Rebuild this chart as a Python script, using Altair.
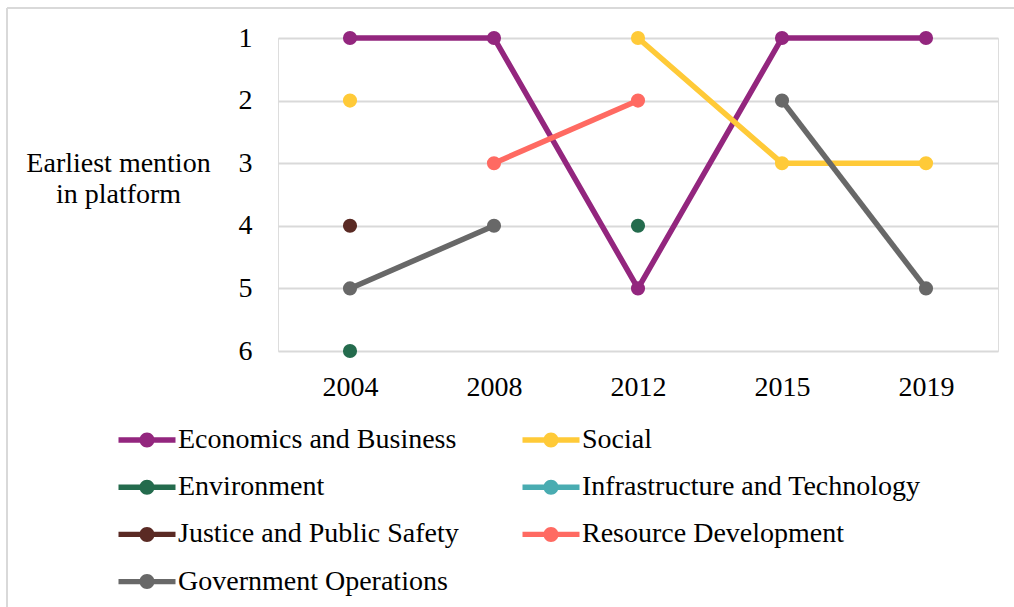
import altair as alt
import pandas as pd

years = ["2004", "2008", "2012", "2015", "2019"]
series = [
    "Economics and Business",
    "Social",
    "Environment",
    "Infrastructure and Technology",
    "Justice and Public Safety",
    "Resource Development",
    "Government Operations",
]
economics = [1, 1, 5, 1, 1]
social = [2, None, 1, 3, 3]
environment = [6, None, 4, None, None]
infrastructure = [None, None, None, None, None]
justice = [4, None, None, None, None]
resource = [None, 3, 2, None, None]
government = [5, 4, None, 2, 5]
colors = ["#93267E", "#FFCA38", "#246B4D", "#49ACB1", "#5A2A24", "#FF6A62", "#686868"]
y_ticks = [1, 2, 3, 4, 5, 6]

values = [economics, social, environment, infrastructure, justice, resource, government]

rows = []
for s_idx, (name, vals) in enumerate(zip(series, values)):
    seg = 0
    for yr, v in zip(years, vals):
        if v is None:
            seg += 1
            continue
        rows.append({"year": yr, "rank": v, "series": name, "order": s_idx,
                     "seg": f"{name}-{seg}"})
df = pd.DataFrame(rows)

# The legend fills column by column; order the domain so it reads row by row (2 columns).
legend_order = [i for i in range(0, len(series), 2)] + [i for i in range(1, len(series), 2)]
dom = [series[i] for i in legend_order]
rng = [colors[i] for i in legend_order]

FONT = "Liberation Serif"
FS = 28

color_scale = alt.Scale(domain=dom, range=rng)
x_enc = alt.X("year:O", sort=years, scale=alt.Scale(domain=years, padding=0.5),
              axis=alt.Axis(title=None, labelAngle=0, domain=False, ticks=False,
                            labelPadding=22, labelFontSize=FS, labelFont=FONT,
                            labelColor="black", grid=False))
y_enc = alt.Y("rank:Q", scale=alt.Scale(domain=[1, 6], reverse=True, nice=False, zero=False),
              axis=alt.Axis(values=y_ticks, format="d", domain=False, ticks=False,
                            labelPadding=26, labelFontSize=FS, labelFont=FONT,
                            labelColor="black", grid=True, gridColor="#d9d9d9",
                            gridWidth=2,
                            title=["Earliest mention", "in platform"],
                            titleAngle=0, titleAlign="center", titleBaseline="middle",
                            titleX=-160, titleY=125, titleFont=FONT, titleFontSize=FS,
                            titleFontWeight="normal", titleColor="black",
                            titleLineHeight=31))

symbol_path = ("M-1.9,-0.18 L1.9,-0.18 L1.9,0.18 L-1.9,0.18 Z "
               "M-0.5,0 A0.5,0.5 0 1,1 0.5,0 A0.5,0.5 0 1,1 -0.5,0 Z")

legend = alt.Legend(title=None, orient="none", legendX=-146, legendY=387,
                    columns=2, columnPadding=63, rowPadding=18.2,
                    symbolType=symbol_path, symbolSize=900,
                    symbolOpacity=1, symbolStrokeWidth=0,
                    labelFont=FONT, labelFontSize=FS, labelColor="black",
                    labelOffset=16, labelLimit=600, padding=0)

lines = alt.Chart(df).mark_line(strokeWidth=5.5, opacity=1).encode(
    x=x_enc, y=y_enc,
    color=alt.Color("series:N", scale=color_scale, legend=legend),
    detail="seg:N",
    order=alt.Order("year:O"),
)

points = alt.Chart(df).mark_point(filled=True, size=200, opacity=1, shape="circle").encode(
    x=x_enc, y=y_enc,
    color=alt.Color("series:N", scale=color_scale, legend=legend),
)

frame_df = pd.DataFrame({"k": [0]})
frame_left = alt.Chart(frame_df).mark_rule(color="#d9d9d9", strokeWidth=2).encode(
    x=alt.value(-271), y=alt.value(-30), y2=alt.value(600))
frame_top = alt.Chart(frame_df).mark_rule(color="#d9d9d9", strokeWidth=2).encode(
    x=alt.value(-271), x2=alt.value(760), y=alt.value(-30))

chart = alt.layer(frame_left, frame_top, lines, points).properties(
    width=720, height=313,
    autosize=alt.AutoSizeParams(type="none"),
    padding={"left": 278, "top": 38, "right": 16, "bottom": 256},
).configure_view(stroke=None).configure(background="white")

chart.save("out.html", embed_options={"renderer": "svg", "actions": False})
